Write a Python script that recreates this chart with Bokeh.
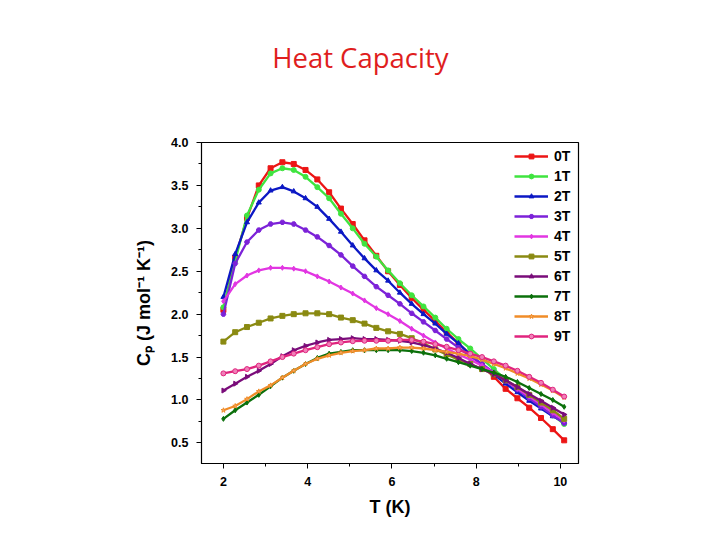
import math
from bokeh.plotting import figure
from bokeh.layouts import column
from bokeh.embed import file_html
from bokeh.resources import INLINE
from bokeh.core.properties import value
from bokeh.models import NumeralTickFormatter, FixedTicker, Legend

T = [2.00, 2.28, 2.56, 2.84, 3.12, 3.40, 3.67, 3.95, 4.23, 4.51,
     4.79, 5.07, 5.35, 5.63, 5.91, 6.19, 6.47, 6.75, 7.03, 7.30,
     7.58, 7.86, 8.14, 8.42, 8.70, 8.98, 9.26, 9.54, 9.82, 10.09]

cp_0T = [2.05, 2.66, 3.12, 3.50, 3.70, 3.77, 3.75, 3.68, 3.57, 3.42,
         3.23, 3.05, 2.86, 2.68, 2.50, 2.34, 2.19, 2.05, 1.92, 1.79,
         1.66, 1.53, 1.40, 1.27, 1.13, 1.02, 0.91, 0.79, 0.66, 0.53]
cp_1T = [2.08, 2.62, 3.15, 3.45, 3.64, 3.70, 3.68, 3.60, 3.48, 3.35,
         3.17, 3.00, 2.82, 2.67, 2.51, 2.36, 2.22, 2.09, 1.96, 1.83,
         1.71, 1.60, 1.48, 1.36, 1.24, 1.13, 1.02, 0.92, 0.82, 0.72]
cp_2T = [2.20, 2.70, 3.07, 3.30, 3.44, 3.48, 3.43, 3.35, 3.25, 3.11,
         2.96, 2.80, 2.65, 2.51, 2.39, 2.25, 2.12, 2.00, 1.89, 1.77,
         1.66, 1.53, 1.41, 1.30, 1.19, 1.09, 0.99, 0.90, 0.81, 0.74]
cp_3T = [2.00, 2.59, 2.84, 2.98, 3.05, 3.07, 3.05, 2.98, 2.90, 2.80,
         2.69, 2.56, 2.44, 2.32, 2.22, 2.12, 2.01, 1.91, 1.81, 1.71,
         1.61, 1.51, 1.42, 1.32, 1.22, 1.12, 1.02, 0.92, 0.82, 0.73]
cp_4T = [2.15, 2.35, 2.45, 2.51, 2.54, 2.54, 2.53, 2.50, 2.44, 2.38,
         2.31, 2.24, 2.16, 2.07, 2.00, 1.92, 1.83, 1.75, 1.67, 1.60,
         1.53, 1.47, 1.40, 1.32, 1.23, 1.13, 1.04, 0.95, 0.85, 0.76]
cp_5T = [1.68, 1.79, 1.85, 1.90, 1.95, 1.98, 2.00, 2.01, 2.01, 2.00,
         1.96, 1.93, 1.89, 1.84, 1.80, 1.77, 1.72, 1.66, 1.59, 1.53,
         1.47, 1.42, 1.36, 1.30, 1.23, 1.15, 1.06, 0.97, 0.88, 0.78]
cp_6T = [1.11, 1.19, 1.27, 1.34, 1.42, 1.51, 1.58, 1.63, 1.67, 1.70,
         1.71, 1.72, 1.71, 1.71, 1.70, 1.69, 1.67, 1.64, 1.60, 1.55,
         1.49, 1.42, 1.36, 1.30, 1.23, 1.15, 1.07, 0.99, 0.91, 0.83]
cp_7T = [0.78, 0.88, 0.97, 1.06, 1.16, 1.26, 1.34, 1.42, 1.49, 1.54,
         1.56, 1.58, 1.58, 1.58, 1.58, 1.58, 1.57, 1.55, 1.52, 1.48,
         1.44, 1.40, 1.36, 1.32, 1.27, 1.21, 1.14, 1.07, 1.00, 0.92]
cp_8T = [0.88, 0.93, 1.01, 1.10, 1.17, 1.26, 1.34, 1.42, 1.48, 1.52,
         1.55, 1.57, 1.58, 1.60, 1.60, 1.61, 1.61, 1.60, 1.58, 1.56,
         1.54, 1.51, 1.47, 1.42, 1.37, 1.31, 1.25, 1.18, 1.11, 1.03]
cp_9T = [1.31, 1.335, 1.36, 1.40, 1.45, 1.50, 1.54, 1.58, 1.615, 1.65,
         1.67, 1.685, 1.69, 1.69, 1.69, 1.70, 1.70, 1.68, 1.65, 1.62,
         1.58, 1.54, 1.50, 1.45, 1.40, 1.34, 1.27, 1.20, 1.12, 1.04]

labels = ["0T", "1T", "2T", "3T", "4T", "5T", "6T", "7T", "8T", "9T"]
series = [cp_0T, cp_1T, cp_2T, cp_3T, cp_4T, cp_5T, cp_6T, cp_7T, cp_8T, cp_9T]
colors = ["#ec1515", "#3fe43f", "#0c18c4", "#7c22d8", "#e236e2",
          "#8a8a12", "#7a0c7a", "#0b700b", "#f08c28", "#e0247e"]
markers = ["square", "circle", "triangle", "hex", "diamond",
           "square", "triangle", "diamond", "star", "circle"]
angles = [0, 0, 0, 0, 0, 0, -math.pi / 2, 0, 0, 0]
fills = ["#ec1515", "#3fe43f", "#0c18c4", "#7c22d8", "#e236e2",
         "#8a8a12", "#7a0c7a", "#0b700b", "#f5b070", "#f080b8"]
yticks = [0.5, 1.0, 1.5, 2.0, 2.5, 3.0, 3.5, 4.0]
xticks = [2, 4, 6, 8, 10]
title_text = "Heat Capacity"

# --- title strip ---
t = figure(width=712, height=100, x_range=(0, 712), y_range=(0, 100),
           output_backend="svg", toolbar_location=None,
           x_axis_type=None, y_axis_type=None,
           min_border=0, outline_line_color=None)
t.grid.visible = False
t.text(x=[300], y=[43], text=[title_text], text_align="center",
       text_baseline="middle", text_font=value("Open Sans"),
       text_font_size="27.5px", text_color="#e01e1e")

# --- main chart ---
p = figure(width=712, height=432, x_range=(1.48, 10.43), y_range=(0.26, 4.0),
           output_backend="svg", toolbar_location=None,
           min_border_left=201, min_border_right=134,
           min_border_top=42, min_border_bottom=69)

p.grid.visible = False
p.outline_line_color = "black"
p.outline_line_width = 1.2
p.background_fill_color = "white"
p.border_fill_color = "white"

items = []
for lab, ys, col, mk, ang, fc in zip(labels, series, colors, markers, angles, fills):
    r1 = p.line(T, ys, line_color=col, line_width=2.3)
    r2 = p.scatter(T, ys, marker=mk, size=5, angle=ang, line_color=col,
                   fill_color=fc, line_width=1)
    items.append((lab, [r1, r2]))

legend = Legend(items=items, location="top_right")
legend.border_line_color = None
legend.background_fill_alpha = 0
legend.label_text_font = "Liberation Sans"
legend.label_text_font_style = "bold"
legend.label_text_font_size = "14px"
legend.label_text_color = "black"
legend.glyph_width = 34
legend.glyph_height = 12
legend.label_height = 20
legend.spacing = 0
legend.label_standoff = 6
legend.padding = 4
legend.margin = 4
p.add_layout(legend)

for ax in (p.xaxis[0], p.yaxis[0]):
    ax.major_label_text_font = "Liberation Sans"
    ax.major_label_text_font_style = "bold"
    ax.major_label_text_font_size = "12.5px"
    ax.major_label_text_color = "black"
    ax.axis_label_text_font = "Liberation Sans"
    ax.axis_label_text_font_style = "bold"
    ax.axis_label_text_font_size = "18px"
    ax.axis_label_text_color = "black"
    ax.major_tick_in = 0
    ax.major_tick_out = 5
    ax.minor_tick_in = 0
    ax.minor_tick_out = 3
    ax.axis_line_color = "black"
    ax.major_tick_line_color = "black"
    ax.minor_tick_line_color = "black"

p.xaxis.ticker = FixedTicker(ticks=xticks, minor_ticks=[3, 5, 7, 9])
p.yaxis.ticker = FixedTicker(ticks=yticks, minor_ticks=[0.75, 1.25, 1.75, 2.25, 2.75, 3.25, 3.75])
p.yaxis.formatter = NumeralTickFormatter(format="0.0")
p.xaxis.formatter = NumeralTickFormatter(format="0")
p.xaxis.axis_label = "T (K)"
p.yaxis.axis_label = "Cₚ (J mol⁻¹ K⁻¹)"
p.xaxis.major_label_standoff = 8
p.xaxis.axis_label_standoff = 8
p.yaxis.major_label_standoff = 8
p.yaxis.axis_label_standoff = 14

layout = column(t, p, spacing=0)
open("out.html", "w").write(file_html(layout, INLINE))
